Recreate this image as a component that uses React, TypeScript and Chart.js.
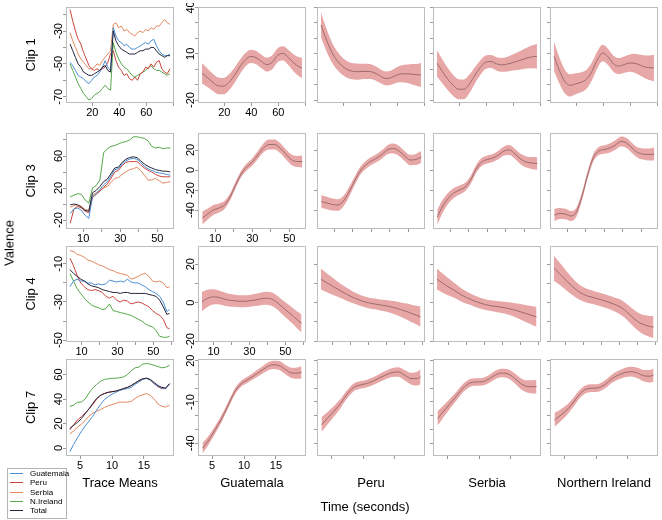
import React, { useEffect, useRef } from 'react';
import { Chart, registerables } from 'chart.js';

Chart.register(...registerables);

const FONT = '"Liberation Sans", Arial, Helvetica, sans-serif';
Chart.defaults.font.family = FONT;
Chart.defaults.color = '#000';

// ---------- labels ----------
const COLUMN_TITLES = ['Trace Means', 'Guatemala', 'Peru', 'Serbia', 'Northern Ireland'];
const CLIP_TITLES = ['Clip 1', 'Clip 3', 'Clip 4', 'Clip 7'];
const LEGEND_NAMES = ['Guatemala', 'Peru', 'Serbia', 'N.Ireland', 'Total'];

// ---------- Clip 1 ----------
const clip1Time = [3.5, 5.5, 7.5, 9.5, 11.5, 13.5, 15.5, 17.5, 19.5, 21.5, 23.5, 25.5, 27.5, 29.5, 31.5, 33.5, 35.5, 37.5, 39.5, 41.5, 43.5, 45.5, 47.5, 49.5, 51.5, 53.5, 55.5, 57.5, 59.5, 61.5, 63.5, 65.5, 67.5, 69.5, 71.5, 73.5, 75.5, 77.5];
const clip1Guatemala = [-49, -51, -54, -57, -58, -59, -61, -62, -60, -58, -57, -55, -52, -48, -52, -54, -28, -33, -36, -37, -39, -38, -40, -41, -41, -40, -39, -38, -37, -38, -36, -35, -39, -42, -44, -45, -45, -44];
const clip1Peru = [-17, -24, -30, -35, -38, -43, -47, -51, -53, -54, -53, -54, -53, -52, -49, -44, -42, -48, -52, -54, -57, -56, -59, -60, -58, -60, -56, -55, -52, -53, -50, -52, -49, -48, -53, -55, -56, -53];
const clip1Serbia = [-31, -36, -40, -44, -47, -49, -51, -53, -53, -52, -50, -51, -48, -46, -44, -42, -26, -25, -28, -27, -30, -29, -31, -32, -33, -31, -30, -31, -29, -30, -28, -29, -27, -27, -25, -23, -25, -26];
const clip1NIreland = [-50, -54, -58, -62, -65, -68, -70, -72, -71, -69, -68, -67, -65, -63, -65, -66, -37, -43, -47, -50, -52, -53, -55, -57, -58, -57, -56, -55, -54, -52, -51, -53, -54, -54, -55, -56, -57, -56];
const clip1Total = [-38, -42, -46, -50, -52, -55, -56, -57, -57, -56, -55, -54, -52, -51, -54, -55, -30, -36, -39, -41, -42, -43, -44, -44, -44, -43, -42, -42, -41, -41, -40, -40, -42, -44, -45, -46, -45, -45];

const clip1FitTime = [3.5, 7.5, 11.5, 15.5, 19.5, 23.5, 27.5, 31.5, 35.5, 39.5, 43.5, 47.5, 51.5, 55.5, 59.5, 63.5, 67.5, 71.5, 75.5, 77.5];
const clip1GuatemalaFit = [-2.7, -5.5, -8.5, -10.8, -11, -8.5, -4, 1.5, 6, 8.3, 7.5, 5, 3, 4.5, 9, 10.2, 7.5, 4, 1.5, 0.8];
const clip1GuatemalaSE = [6.5, 6, 5.6, 5.4, 5.3, 5.2, 5, 4.7, 4.4, 4.3, 4.3, 4.4, 4.5, 4.5, 4.5, 4.6, 5, 5.6, 6.2, 6.5];
const clip1PeruFit = [28.6, 19, 11, 5.5, 1.8, -0.5, -1.4, -1.6, -1.4, -1.5, -2.5, -4.5, -6, -5.5, -3.8, -3, -3, -3.3, -3.7, -3.8];
const clip1PeruSE = [8, 7.3, 6.5, 6, 5.6, 5.4, 5.3, 5.2, 5, 4.8, 4.6, 4.5, 4.5, 4.6, 5, 5.5, 6, 6.7, 7.3, 7.8];
const clip1SerbiaFit = [3.8, -1.5, -6.5, -10.5, -13, -13, -9.5, -4, 1, 4.5, 5, 3.5, 2.8, 3.3, 4.3, 5.3, 6.5, 7.6, 8.2, 8.3];
const clip1SerbiaSE = [8.5, 7.8, 7.2, 6.8, 6.5, 6.4, 6, 5.3, 4.7, 4.3, 4.2, 4.3, 4.5, 4.8, 5.2, 5.8, 6.4, 7, 7.6, 8];
const clip1NIrelandFit = [8.3, -1, -8, -10.5, -9.5, -8.5, -6.5, -1.5, 6, 10.5, 8, 3.5, 2, 3, 4, 3.8, 2.5, 1.3, 0.9, 0.8];
const clip1NIrelandSE = [9.5, 8.5, 7.7, 7.2, 6.8, 6.5, 6.2, 5.8, 5.5, 5.4, 5.3, 5.2, 5.2, 5.3, 5.6, 6.2, 6.8, 7.5, 8.2, 8.6];

// ---------- Clip 3 ----------
const clip3Time = [3, 5, 7, 9, 11, 13, 15, 17, 19, 21, 23, 25, 27, 29, 31, 33, 35, 37, 39, 41, 43, 45, 47, 49, 51, 53, 55, 57];
const clip3Guatemala = [-12, -6, -5, -8, -14, -18, 9, 13, 18, 24, 28, 35, 43, 44, 50, 54, 56, 57, 56, 52, 47, 44, 42, 40, 39, 38, 37, 36];
const clip3Peru = [-24, -6, -3, -5, -9, -11, 8, 12, 16, 21, 25, 32, 40, 42, 48, 52, 53, 53, 53, 49, 45, 42, 40, 37, 35, 34, 34, 34];
const clip3Serbia = [-4, -2, -1, -3, -7, -8, 11, 14, 17, 20, 22, 27, 32, 33, 37, 40, 43, 44, 46, 42, 36, 30, 30, 32, 29, 26, 27, 28];
const clip3NIreland = [9, 11, 13, 12, 5, 1, 20, 23, 30, 64, 69, 72, 73, 75, 77, 78, 80, 84, 84, 83, 82, 79, 72, 70, 71, 69, 70, 70];
const clip3Total = [-1, 0, -1, -4, -8, -9, 14, 17, 22, 28, 31, 38, 45, 46, 52, 56, 58, 59, 58, 54, 50, 47, 45, 43, 42, 41, 41, 40];

const clip3FitTime = [3, 6, 9, 12, 15, 18, 21, 24, 27, 30, 33, 36, 39, 42, 45, 48, 51, 54, 57];
const clip3GuatemalaFit = [-48, -44, -40, -38, -35, -27, -15, -4, 3, 8, 15, 22, 25.5, 25.5, 22, 16, 10.5, 8.5, 8.5];
const clip3GuatemalaSE = [6.5, 5.5, 5, 4.5, 4, 3.5, 3.3, 3.3, 3.5, 3.8, 4, 4.5, 5, 5, 5, 5, 5.2, 5.6, 6];
const clip3PeruFit = [-31.5, -33, -34.5, -35, -31, -22, -11, -1, 5, 9, 12, 16, 20.5, 21.5, 19, 14, 10, 10.5, 13];
const clip3PeruSE = [6.5, 6.2, 6, 5.8, 5.3, 4.7, 4.2, 4, 4, 4, 4, 4.2, 4.6, 5, 5, 5, 5.2, 5.6, 6];
const clip3SerbiaFit = [-47, -36, -28, -23, -20, -17, -10, 1, 8, 10.5, 12, 15, 19, 20, 16, 11, 8, 7, 6.5];
const clip3SerbiaSE = [7.5, 6.5, 5.5, 5, 4.5, 4.2, 4, 4, 4, 4, 4, 4.2, 4.6, 5, 5, 5.2, 5.6, 6, 6.3];
const clip3NIrelandFit = [-45, -43.5, -44, -46, -42, -26, -5, 12, 19, 20.5, 22, 25, 28.5, 27, 22, 17.5, 16, 15.5, 16];
const clip3NIrelandSE = [6, 5.5, 5.2, 5, 4.5, 4, 3.8, 3.8, 4, 4.2, 4.5, 4.8, 5, 5, 5, 5.2, 5.6, 6, 6.5];

// ---------- Clip 4 ----------
const clip4Time = [3.5, 5.5, 7.5, 9.5, 11.5, 13.5, 15.5, 17.5, 19.5, 21.5, 23.5, 25.5, 27.5, 29.5, 31.5, 33.5, 35.5, 37.5, 39.5, 41.5, 43.5, 45.5, 47.5, 49.5, 51.5, 53.5, 55.5, 57.5, 59];
const clip4Guatemala = [-22, -19, -18, -19, -19, -20, -20, -21, -20.5, -21, -20.5, -18.5, -19, -19.5, -19, -19.5, -18, -19.5, -20, -20, -21, -22, -23.5, -24.5, -25.5, -27, -30, -35, -34];
const clip4Peru = [-7, -11, -16, -20, -22, -23.5, -24, -23.5, -24, -25, -27, -28, -27, -29, -30, -29, -29.5, -31, -30.5, -30, -30.5, -31.5, -32.5, -34.5, -36, -37, -39, -43.5, -44];
const clip4Serbia = [-3, -3.5, -5, -5.5, -6.5, -8, -8.5, -9.5, -10.5, -11, -12, -13, -13.5, -14.5, -15, -15.5, -16, -18, -17.5, -16.5, -15.5, -15, -16.5, -19, -19.5, -19, -20, -22.5, -22];
const clip4NIreland = [-15, -19, -23, -25.5, -28, -30, -31.5, -32.5, -33, -34, -33.5, -31, -34.5, -35, -35.5, -36, -36.5, -37, -38, -39, -40, -41.5, -42.5, -43, -45, -48, -48.5, -48.5, -48];
const clip4Total = [-13, -15, -16.5, -18, -19, -20.5, -21.5, -22, -22.5, -23.5, -24, -24.5, -25, -25, -25.5, -25, -25, -25.5, -25.5, -25.5, -25.5, -25.5, -26, -26.5, -27, -29, -32.5, -36.5, -36];

const clip4FitTime = [3.5, 6.5, 9.5, 12.5, 15.5, 18.5, 21.5, 24.5, 27.5, 30.5, 33.5, 36.5, 39.5, 42.5, 45.5, 48.5, 51.5, 54.5, 57.5, 59];
const clip4GuatemalaFit = [0.5, 2.2, 3, 2.8, 2, 1.3, 1, 0.7, 0.7, 1, 1.4, 2, 2.3, 1.8, 0, -2.5, -4.8, -7.2, -9.7, -10.8];
const clip4GuatemalaSE = [5, 4.5, 4, 3.7, 3.5, 3.3, 3.2, 3.1, 3.1, 3.1, 3.2, 3.3, 3.4, 3.5, 3.6, 3.8, 4, 4.2, 4.5, 4.6];
const clip4PeruFit = [12.2, 10.5, 8.8, 7.2, 5.6, 4, 2.7, 1.5, 0.5, -0.2, -0.7, -1.2, -1.6, -2.2, -2.9, -3.8, -4.7, -5.8, -6.8, -7.3];
const clip4PeruSE = [5.4, 5, 4.5, 4, 3.6, 3.3, 3, 2.9, 2.8, 2.8, 2.8, 2.9, 3, 3.2, 3.5, 3.8, 4.2, 4.6, 5, 5.2];
const clip4SerbiaFit = [12.2, 10.3, 8.4, 6.8, 5, 3.3, 2, 0.8, -0.2, -1, -1.6, -2, -2.4, -2.9, -3.5, -4.3, -5.2, -6.1, -7, -7.4];
const clip4SerbiaSE = [5.4, 5, 4.5, 4, 3.6, 3.3, 3, 2.9, 2.8, 2.8, 2.8, 2.9, 3, 3.2, 3.5, 3.8, 4.2, 4.6, 5, 5.2];
const clip4NIrelandFit = [17.9, 15.2, 12.3, 9.5, 7, 5, 3.7, 2.9, 2.1, 1.3, 0.4, -0.6, -1.8, -3.5, -6, -8.6, -10.6, -11.8, -12.5, -12.8];
const clip4NIrelandSE = [6.5, 5.8, 5.2, 4.6, 4.2, 3.8, 3.6, 3.5, 3.4, 3.4, 3.5, 3.6, 3.8, 4, 4.2, 4.5, 4.8, 5.2, 5.5, 5.7];

// ---------- Clip 7 ----------
const clip7Time = [3.4, 4, 4.6, 5.2, 5.8, 6.4, 7, 7.6, 8.2, 8.8, 9.4, 10, 10.6, 11.2, 11.8, 12.4, 13, 13.6, 14.2, 14.8, 15.4, 16, 16.6, 17.2, 17.8, 18.4, 19];
const clip7Guatemala = [-3, 3, 8.5, 13.5, 18, 22, 26, 31, 35.5, 39.5, 42, 44, 45.5, 47, 48, 48.5, 49.5, 52, 54, 56, 57, 55.5, 52.5, 50.5, 49, 48.5, 52.5];
const clip7Peru = [15, 19, 23, 25.5, 28.5, 32, 35.5, 40, 43, 44.5, 45.5, 46, 46.5, 47.5, 48.5, 49.5, 51, 53, 55, 56.5, 57, 55.5, 52.5, 50, 48.5, 48.5, 52.5];
const clip7Serbia = [11.5, 14, 17, 19.5, 22.5, 26, 28.5, 30, 31.5, 33, 34.5, 35.5, 36.5, 37.5, 37.5, 37.5, 38, 40.5, 42.5, 43.5, 44.5, 43, 40, 36, 34, 33.5, 35];
const clip7NIreland = [34, 35, 37.5, 37.5, 40, 45, 49, 52, 54.5, 56, 56.5, 57, 57, 57.5, 58, 60, 63, 65.5, 66, 68.5, 69, 68.5, 67.5, 66.5, 65.5, 66, 67.5];
const clip7Total = [16, 18.5, 21, 24, 28, 32, 36.5, 40.5, 43, 44.5, 45.5, 46, 46.5, 47.5, 48.5, 49.5, 51, 53, 55, 56.5, 57, 56, 53.5, 51, 49.5, 49, 52.5];

const clip7FitTime = [3.5, 4.5, 5.5, 6.5, 7.5, 8.5, 9.5, 10.5, 11.5, 12.5, 13.5, 14.5, 15.5, 16.5, 17.5, 18.5, 19];
const clip7GuatemalaFit = [-43.6, -37.5, -30, -22, -12.5, -3, 3, 6, 9, 12, 15.2, 17, 16.5, 13.5, 11, 11, 11.5];
const clip7GuatemalaSE = [3.8, 3.2, 2.8, 2.5, 2.3, 2.2, 2.2, 2.3, 2.4, 2.6, 2.8, 3, 3.2, 3.4, 3.8, 4.2, 4.4];
const clip7PeruFit = [-26.5, -21.5, -16.5, -11, -4.5, 0.5, 2.3, 3.3, 5, 7.3, 9.5, 11.3, 11.8, 9.5, 7, 7, 8.3];
const clip7PeruSE = [5.5, 4.5, 3.8, 3.3, 3, 2.8, 2.7, 2.7, 2.8, 2.9, 3, 3.2, 3.4, 3.8, 4.3, 5, 5.5];
const clip7SerbiaFit = [-22, -16.5, -11, -5.5, 0, 3.6, 4.5, 4.7, 6.5, 9.5, 11, 10.5, 7.5, 3.5, 1.3, 1, 1.2];
const clip7SerbiaSE = [5.2, 4.3, 3.6, 3.2, 3, 2.9, 2.8, 2.8, 2.9, 3, 3.1, 3.3, 3.6, 4, 4.4, 4.8, 5];
const clip7NIrelandFit = [-23, -19.5, -15.5, -10, -4, -0.5, 0, 0.5, 3, 7, 9.5, 11.3, 12, 11, 9, 8.7, 9.6];
const clip7NIrelandSE = [5, 4.3, 3.7, 3.3, 3, 2.9, 2.8, 2.8, 2.9, 3, 3.1, 3.3, 3.5, 3.8, 4.2, 4.6, 4.9];

// ---------- axis ticks ----------
const clip1XTicks = [20, 40, 60, 80];
const clip1XLabels = [20, 40, 60];
const clip1TraceYTicks = [-70, -60, -50, -40, -30, -20];
const clip1TraceYLabels = [-70, -50, -30];
const clip1FitYTicks = [-20, -10, 0, 10, 20, 30, 40];
const clip1FitYLabels = [-20, 10, 40];

const clip3XTicks = [10, 20, 30, 40, 50];
const clip3XLabels = [10, 30, 50];
const clip3TraceYTicks = [-20, 0, 20, 40, 60, 80];
const clip3TraceYLabels = [-20, 20, 60];
const clip3FitYTicks = [-40, -20, 0, 20];
const clip3FitYLabels = [-40, -20, 0, 20];

const clip4XTicks = [10, 20, 30, 40, 50, 60];
const clip4XLabels = [10, 30, 50];
const clip4TraceYTicks = [-50, -40, -30, -20, -10];
const clip4TraceYLabels = [-50, -30, -10];
const clip4FitYTicks = [-20, -10, 0, 10, 20];
const clip4FitYLabels = [-20, 0, 20];

const clip7XTicks = [5, 10, 15];
const clip7XLabels = [5, 10, 15];
const clip7TraceYTicks = [0, 20, 40, 60];
const clip7TraceYLabels = [0, 20, 40, 60];
const clip7FitYTicks = [-40, -30, -20, -10, 0, 10, 20];
const clip7FitYLabels = [-40, -10, 20];

// ---------- styles ----------
const SERIES_COLORS = ['#4a8fd3', '#c8453b', '#e2875f', '#55a74a', '#23233a'];
const BAND_COLOR = '#e8a7a7';
const FIT_LINE = '#8a5c5c';
const BOX_COLOR = '#bdbdbd';
const TICK_COLOR = '#9a9a9a';

const COL_LEFT = [66, 198, 317, 433, 550];
const COL_W = 108;
const COL_PADL = [52, 20, 6, 6, 6];
const ROW_TOP = [7, 133, 246, 359];
const ROW_H = [96, 96, 96, 97];
const ROW_PADB = [18, 18, 18, 44];
const PAD_T = 4;
const PAD_R = 4;

type Axis = { min: number; max: number; ticks: number[]; labels: number[] };

type RowSpec = {
  x: Axis;
  traceY: Axis;
  fitY: Axis;
  time: number[];
  traces: number[][]; // Guatemala, Peru, Serbia, N.Ireland, Total
  fitTime: number[];
  fits: [number[], number[]][];
};

const ROWS: RowSpec[] = [
  {
    x: { min: 0.5, max: 80.5, ticks: clip1XTicks, labels: clip1XLabels },
    traceY: { min: -73.8, max: -15.4, ticks: clip1TraceYTicks, labels: clip1TraceYLabels },
    fitY: { min: -21.9, max: 40.3, ticks: clip1FitYTicks, labels: clip1FitYLabels },
    time: clip1Time,
    traces: [clip1Guatemala, clip1Peru, clip1Serbia, clip1NIreland, clip1Total],
    fitTime: clip1FitTime,
    fits: [[clip1GuatemalaFit, clip1GuatemalaSE], [clip1PeruFit, clip1PeruSE], [clip1SerbiaFit, clip1SerbiaSE], [clip1NIrelandFit, clip1NIrelandSE]],
  },
  {
    x: { min: 0.7, max: 59, ticks: clip3XTicks, labels: clip3XLabels },
    traceY: { min: -31.25, max: 88.75, ticks: clip3TraceYTicks, labels: clip3TraceYLabels },
    fitY: { min: -59, max: 37, ticks: clip3FitYTicks, labels: clip3FitYLabels },
    time: clip3Time,
    traces: [clip3Guatemala, clip3Peru, clip3Serbia, clip3NIreland, clip3Total],
    fitTime: clip3FitTime,
    fits: [[clip3GuatemalaFit, clip3GuatemalaSE], [clip3PeruFit, clip3PeruSE], [clip3SerbiaFit, clip3SerbiaSE], [clip3NIrelandFit, clip3NIrelandSE]],
  },
  {
    x: { min: 1.3, max: 61.5, ticks: clip4XTicks, labels: clip4XLabels },
    traceY: { min: -51, max: -0.6, ticks: clip4TraceYTicks, labels: clip4TraceYLabels },
    fitY: { min: -20.5, max: 29.5, ticks: clip4FitYTicks, labels: clip4FitYLabels },
    time: clip4Time,
    traces: [clip4Guatemala, clip4Peru, clip4Serbia, clip4NIreland, clip4Total],
    fitTime: clip4FitTime,
    fits: [[clip4GuatemalaFit, clip4GuatemalaSE], [clip4PeruFit, clip4PeruSE], [clip4SerbiaFit, clip4SerbiaSE], [clip4NIrelandFit, clip4NIrelandSE]],
  },
  {
    x: { min: 2.8, max: 19.7, ticks: clip7XTicks, labels: clip7XLabels },
    traceY: { min: -6.5, max: 72.7, ticks: clip7TraceYTicks, labels: clip7TraceYLabels },
    fitY: { min: -49.2, max: 21.2, ticks: clip7FitYTicks, labels: clip7FitYLabels },
    time: clip7Time,
    traces: [clip7Guatemala, clip7Peru, clip7Serbia, clip7NIreland, clip7Total],
    fitTime: clip7FitTime,
    fits: [[clip7GuatemalaFit, clip7GuatemalaSE], [clip7PeruFit, clip7PeruSE], [clip7SerbiaFit, clip7SerbiaSE], [clip7NIrelandFit, clip7NIrelandSE]],
  },
];

const pts = (xs: number[], ys: number[]) => xs.map((x, i) => ({ x, y: ys[i] }));

function traceDatasets(row: RowSpec) {
  // Total first so it is drawn on top
  const order = [4, 0, 1, 2, 3];
  return order.map((k) => ({
    data: pts(row.time, row.traces[k]),
    borderColor: SERIES_COLORS[k],
    borderWidth: 1,
    pointRadius: 0,
    fill: false,
    tension: 0,
  }));
}

function fitDatasets(xs: number[], fit: number[], se: number[]) {
  return [
    { data: pts(xs, fit), borderColor: FIT_LINE, borderWidth: 0.8, pointRadius: 0, fill: false, cubicInterpolationMode: 'monotone' },
    { data: pts(xs, fit.map((v, i) => v - se[i])), borderColor: 'rgba(0,0,0,0)', borderWidth: 0, pointRadius: 0, fill: false, cubicInterpolationMode: 'monotone' },
    { data: pts(xs, fit.map((v, i) => v + se[i])), borderColor: 'rgba(0,0,0,0)', backgroundColor: BAND_COLOR, borderWidth: 0, pointRadius: 0, fill: 1, cubicInterpolationMode: 'monotone' },
  ];
}

type PanelProps = {
  col: number;
  row: number;
  datasets: any[];
  x: Axis;
  y: Axis;
  showXLabels: boolean;
  showYLabels: boolean;
  yTitle?: string;
  xTitle?: string;
};

function Panel(p: PanelProps) {
  const ref = useRef<HTMLCanvasElement | null>(null);
  const padL = COL_PADL[p.col];
  const padB = ROW_PADB[p.row];
  const h = ROW_H[p.row];
  const cw = padL + COL_W + PAD_R;
  const ch = PAD_T + h + padB;
  const left = COL_LEFT[p.col] - padL;
  const top = ROW_TOP[p.row] - PAD_T;

  useEffect(() => {
    const canvas = ref.current;
    if (!canvas) return;
    const yLabels = p.showYLabels ? p.y.labels : [];
    const boxPlugin = {
      id: 'panelBox',
      afterDraw(chart: any) {
        const { ctx, chartArea: a } = chart;
        const ys = chart.scales.y;
        ctx.save();
        ctx.strokeStyle = BOX_COLOR;
        ctx.lineWidth = 1;
        ctx.strokeRect(a.left + 0.5, a.top + 0.5, a.right - a.left - 1, a.bottom - a.top - 1);
        ctx.fillStyle = '#000';
        ctx.font = `11px ${FONT}`;
        ctx.textAlign = 'center';
        ctx.textBaseline = 'middle';
        yLabels.forEach((v) => {
          const py = ys.getPixelForValue(v);
          ctx.save();
          ctx.translate(a.left - 7, py);
          ctx.rotate(-Math.PI / 2);
          ctx.fillText(String(v), 0, 0);
          ctx.restore();
        });
        ctx.restore();
      },
    };
    const chart = new Chart(canvas, {
      type: 'line',
      data: { datasets: p.datasets },
      plugins: [boxPlugin],
      options: {
        animation: false,
        responsive: false,
        maintainAspectRatio: false,
        devicePixelRatio: 1,
        layout: { padding: { top: PAD_T, right: PAD_R, left: 0, bottom: 0 } },
        plugins: { legend: { display: false }, tooltip: { enabled: false } },
        elements: { point: { radius: 0 } },
        scales: {
          x: {
            type: 'linear',
            min: p.x.min,
            max: p.x.max,
            afterBuildTicks: (s: any) => {
              s.ticks = p.x.ticks.map((v) => ({ value: v }));
            },
            afterFit: (s: any) => {
              s.height = padB;
            },
            ticks: {
              autoSkip: false,
              maxRotation: 0,
              minRotation: 0,
              padding: 0,
              color: '#000',
              font: { family: FONT, size: 11 },
              callback: (v: any) => (p.showXLabels && p.x.labels.includes(Number(v)) ? String(v) : ''),
            },
            grid: { drawOnChartArea: false, drawTicks: true, tickLength: 3, tickColor: TICK_COLOR, color: TICK_COLOR },
            border: { display: false },
            title: p.xTitle
              ? { display: true, text: p.xTitle, color: '#000', font: { family: FONT, size: 13 }, padding: { top: 0, bottom: 9 } }
              : { display: false },
          },
          y: {
            type: 'linear',
            min: p.y.min,
            max: p.y.max,
            afterBuildTicks: (s: any) => {
              s.ticks = p.y.ticks.map((v) => ({ value: v }));
            },
            afterFit: (s: any) => {
              s.width = padL;
            },
            ticks: { display: false },
            grid: { drawOnChartArea: false, drawTicks: true, tickLength: 3, tickColor: TICK_COLOR, color: TICK_COLOR },
            border: { display: false },
            title: p.yTitle
              ? { display: true, text: p.yTitle, color: '#000', font: { family: FONT, size: 13 }, padding: { top: 10, bottom: 0 } }
              : { display: false },
          },
        },
      } as any,
    });
    return () => chart.destroy();
  }, []);

  return (
    <canvas
      ref={ref}
      width={cw}
      height={ch}
      style={{ position: 'absolute', left, top, width: cw, height: ch }}
    />
  );
}

export default function App() {
  const panels: React.ReactNode[] = [];
  ROWS.forEach((row, r) => {
    panels.push(
      <Panel
        key={`t${r}`}
        col={0}
        row={r}
        datasets={traceDatasets(row)}
        x={row.x}
        y={row.traceY}
        showXLabels={true}
        showYLabels={true}
        yTitle={CLIP_TITLES[r]}
        xTitle={r === 3 ? COLUMN_TITLES[0] : undefined}
      />
    );
    row.fits.forEach(([fit, se], k) => {
      panels.push(
        <Panel
          key={`f${r}-${k}`}
          col={k + 1}
          row={r}
          datasets={fitDatasets(row.fitTime, fit, se)}
          x={row.x}
          y={row.fitY}
          showXLabels={k === 0}
          showYLabels={k === 0}
          xTitle={r === 3 ? COLUMN_TITLES[k + 1] : undefined}
        />
      );
    });
  });

  return (
    <div style={{ position: 'absolute', left: 0, top: 0, width: 662, height: 520, background: '#fff', overflow: 'hidden', fontFamily: FONT }}>
      {panels}
      <div
        style={{
          position: 'absolute',
          left: 9,
          top: 243,
          transform: 'translate(-50%, -50%) rotate(-90deg)',
          fontSize: 13,
          whiteSpace: 'nowrap',
          color: '#000',
        }}
      >
        Valence
      </div>
      <div
        style={{
          position: 'absolute',
          left: 365,
          top: 506,
          transform: 'translate(-50%, -50%)',
          fontSize: 13,
          whiteSpace: 'nowrap',
          color: '#000',
        }}
      >
        Time (seconds)
      </div>
      <div
        style={{
          position: 'absolute',
          left: 7,
          top: 468,
          width: 58,
          height: 49,
          border: '1px solid #b5b5b5',
          background: '#fff',
        }}
      >
        {LEGEND_NAMES.map((name, i) => (
          <div key={name} style={{ position: 'absolute', left: 0, top: i * 9.25, width: 58, height: 9 }}>
            <div style={{ position: 'absolute', left: 2, top: 4, width: 13, height: 0, borderTop: `1px solid ${SERIES_COLORS[i]}` }} />
            <div style={{ position: 'absolute', left: 22, top: 0, lineHeight: '9px', fontSize: 8, color: '#000', whiteSpace: 'nowrap' }}>{name}</div>
          </div>
        ))}
      </div>
    </div>
  );
}
